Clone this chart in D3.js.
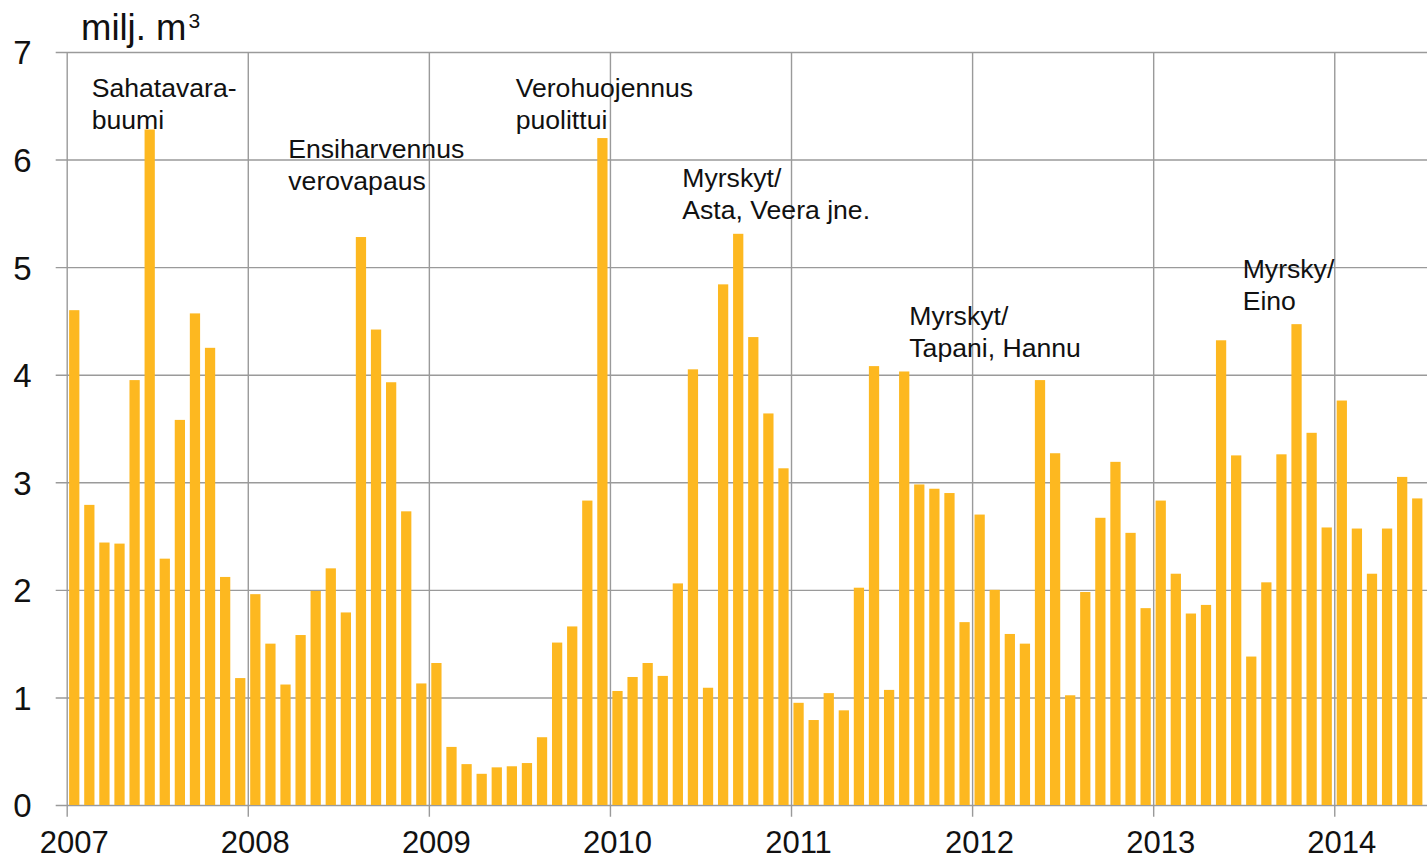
<!DOCTYPE html>
<html>
<head>
<meta charset="utf-8">
<script src="https://cdn.jsdelivr.net/npm/d3@7"></script>
<style>
    body { margin: 0; background: #fff; }
    svg text { font-family: "Liberation Sans", Arial, sans-serif; fill: #111; }
</style>
</head>
<body>
<div id="chart"></div>
<script>
// monthly values, Jan 2007 .. Jun 2014 (milj. m3)
var years = [2007, 2008, 2009, 2010, 2011, 2012, 2013, 2014];
var v2007 = [4.60, 2.79, 2.44, 2.43, 3.95, 6.28, 2.29, 3.58, 4.57, 4.25, 2.12, 1.18];
var v2008 = [1.96, 1.50, 1.12, 1.58, 1.99, 2.20, 1.79, 5.28, 4.42, 3.93, 2.73, 1.13];
var v2009 = [1.32, 0.54, 0.38, 0.29, 0.35, 0.36, 0.39, 0.63, 1.51, 1.66, 2.83, 6.20];
var v2010 = [1.06, 1.19, 1.32, 1.20, 2.06, 4.05, 1.09, 4.84, 5.31, 4.35, 3.64, 3.13];
var v2011 = [0.95, 0.79, 1.04, 0.88, 2.02, 4.08, 1.07, 4.03, 2.98, 2.94, 2.90, 1.70];
var v2012 = [2.70, 2.00, 1.59, 1.50, 3.95, 3.27, 1.02, 1.98, 2.67, 3.19, 2.53, 1.83];
var v2013 = [2.83, 2.15, 1.78, 1.86, 4.32, 3.25, 1.38, 2.07, 3.26, 4.47, 3.46, 2.58];
var v2014 = [3.76, 2.57, 2.15, 2.57, 3.05, 2.85];
var yTicks = [0, 1, 2, 3, 4, 5, 6, 7];

// annotation texts
var notes = [
    {lines: ["Sahatavara-", "buumi"], x: 91.7, y: 97},
    {lines: ["Ensiharvennus", "verovapaus"], x: 288.3, y: 158},
    {lines: ["Verohuojennus", "puolittui"], x: 515.7, y: 97.3},
    {lines: ["Myrskyt/", "Asta, Veera jne."], x: 682.3, y: 187.3},
    {lines: ["Myrskyt/", "Tapani, Hannu"], x: 909.3, y: 325},
    {lines: ["Myrsky/", "Eino"], x: 1242.7, y: 278.3}
];

var values = [].concat(v2007, v2008, v2009, v2010, v2011, v2012, v2013, v2014);
var data = values.map(function (d, i) { return {i: i, value: d}; });

var W = 1427, H = 858;
var plotLeft = 66.7, plotRight = 1424.8, plotTop = 52, plotBottom = 805;

var svg = d3.select("#chart").append("svg")
    .attr("width", W)
    .attr("height", H);

var x = d3.scaleBand()
    .domain(d3.range(values.length))
    .range([plotLeft, plotRight])
    .paddingInner(0.32)
    .paddingOuter(0.16);

// month index scale for year gridlines
var xm = d3.scaleLinear()
    .domain([0, values.length])
    .range([plotLeft, plotRight]);

var y = d3.scaleLinear()
    .domain([0, 7])
    .range([plotBottom, plotTop]);

// horizontal gridlines + y labels
var yAxis = svg.append("g")
    .attr("transform", "translate(55.7,0)")
    .call(d3.axisLeft(y).tickValues(yTicks).tickFormat(d3.format("d"))
        .tickSize(-(W - 55.7)).tickPadding(24));
yAxis.select(".domain").remove();
yAxis.selectAll("line").attr("stroke", "#9a9a9a").attr("stroke-width", 1.4);
yAxis.selectAll("text").style("font-size", "33px").attr("dy", "0.36em").attr("fill", "#111");

// vertical year gridlines + year labels
var xAxis = svg.append("g")
    .attr("transform", "translate(0," + 816.7 + ")")
    .call(d3.axisBottom(xm)
        .tickValues(years.map(function (d, i) { return i * 12; }))
        .tickFormat(function (d) { return years[d / 12]; })
        .tickSize(-(816.7 - plotTop)));
xAxis.select(".domain").remove();
xAxis.selectAll("line").attr("stroke", "#9a9a9a").attr("stroke-width", 1.4);
xAxis.selectAll("text")
    .style("font-size", "31px")
    .attr("fill", "#111")
    .attr("dy", null)
    .attr("y", 36)
    .attr("dx", 7);

// bars
svg.append("g")
    .selectAll("rect")
    .data(data)
    .enter().append("rect")
    .attr("x", function (d) { return x(d.i); })
    .attr("y", function (d) { return y(d.value); })
    .attr("width", x.bandwidth())
    .attr("height", function (d) { return y(0) - y(d.value); })
    .attr("fill", "#fdb820");

// unit label
var unit = svg.append("text")
    .attr("x", 81)
    .attr("y", 40)
    .style("font-size", "36.5px")
    .text("milj. m");
unit.append("tspan")
    .attr("dx", 2)
    .attr("dy", -12)
    .style("font-size", "21px")
    .text("3");

// annotations
notes.forEach(function (n) {
    var t = svg.append("text")
        .attr("x", n.x)
        .attr("y", n.y)
        .style("font-size", "26.6px");
    n.lines.forEach(function (line, k) {
        t.append("tspan")
            .attr("x", n.x)
            .attr("dy", k === 0 ? 0 : 31.5)
            .text(line);
    });
});
</script>
</body>
</html>
